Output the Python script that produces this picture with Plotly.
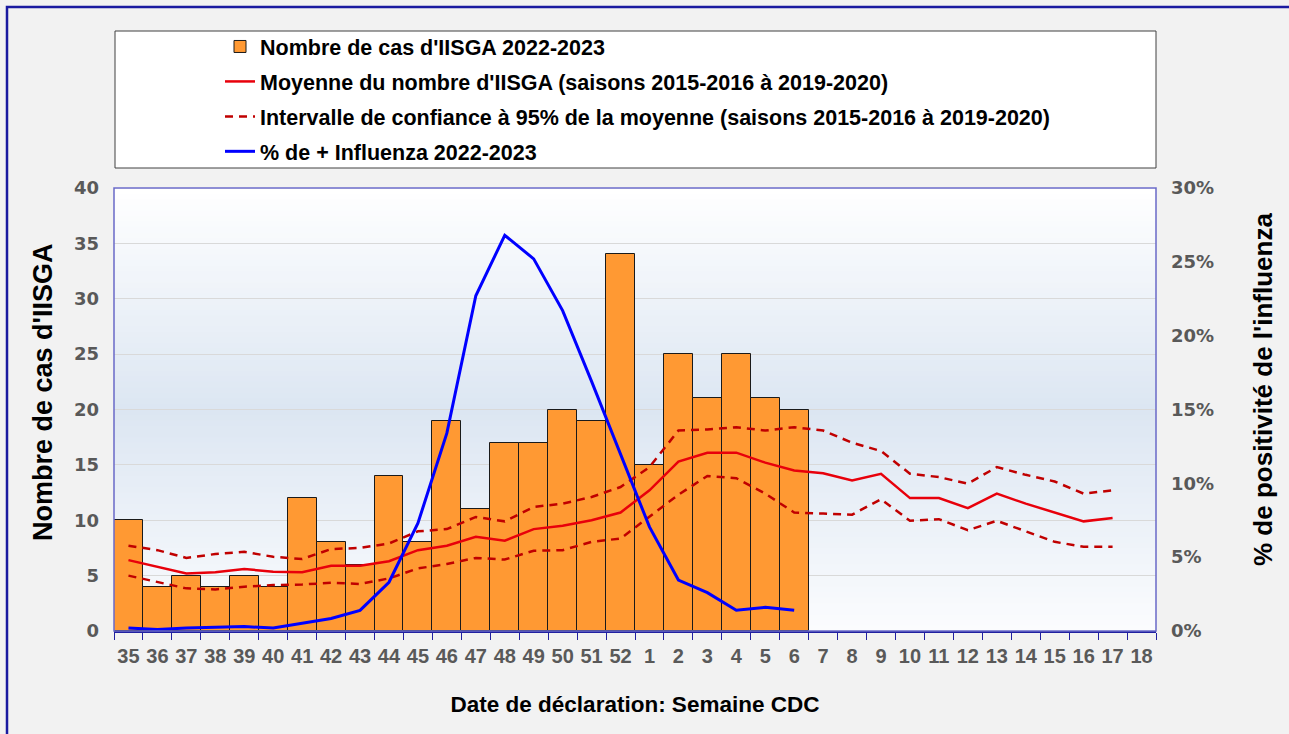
import plotly.graph_objects as go

weeks = ["35", "36", "37", "38", "39", "40", "41", "42", "43", "44", "45", "46",
         "47", "48", "49", "50", "51", "52", "1", "2", "3", "4", "5", "6",
         "7", "8", "9", "10", "11", "12", "13", "14", "15", "16", "17", "18"]

cases = [10, 4, 5, 4, 5, 4, 12, 8, 6, 14, 8, 19, 11, 17, 17, 20, 19, 34,
         15, 25, 21, 25, 21, 20,
         None, None, None, None, None, None, None, None, None, None, None, None]

mean_hist = [6.4, 5.8, 5.2, 5.3, 5.6, 5.35, 5.3, 5.9, 5.9, 6.3, 7.3, 7.7,
             8.5, 8.15, 9.2, 9.5, 10.0, 10.7, 12.7, 15.3, 16.1, 16.1, 15.2, 14.5,
             14.25, 13.6, 14.2, 12.0, 12.0, 11.1, 12.4, 11.5, 10.7, 9.9, 10.2, None]

ci_upper = [7.7, 7.3, 6.6, 6.95, 7.15, 6.7, 6.5, 7.4, 7.5, 7.9, 9.0, 9.2,
            10.3, 9.9, 11.2, 11.5, 12.1, 13.0, 14.8, 18.1, 18.2, 18.4, 18.1, 18.4,
            18.1, 17.0, 16.25, 14.2, 13.9, 13.3, 14.8, 14.1, 13.5, 12.4, 12.7, None]

ci_lower = [5.0, 4.45, 3.85, 3.75, 4.0, 4.15, 4.2, 4.35, 4.25, 4.75, 5.65, 6.05,
            6.6, 6.45, 7.25, 7.3, 8.05, 8.35, 10.3, 12.3, 14.0, 13.8, 12.4, 10.7,
            10.6, 10.5, 11.9, 9.95, 10.1, 9.1, 9.95, 9.0, 8.05, 7.6, 7.6, None]

flu_pct = [0.2, 0.1, 0.2, 0.25, 0.3, 0.2, 0.5, 0.85, 1.4, 3.3, 7.3, 13.4,
           22.7, 26.8, 25.2, 21.7, 16.9, 12.0, 7.05, 3.45, 2.6, 1.4, 1.6, 1.4,
           None, None, None, None, None, None, None, None, None, None, None, None]

left_ticks = [0, 5, 10, 15, 20, 25, 30, 35, 40]
right_ticks = [0, 5, 10, 15, 20, 25, 30]
right_ticktext = ["0%", "5%", "10%", "15%", "20%", "25%", "30%"]

W, H = 1289, 734
L, R, T, B = 114, 1156, 188, 631  # plot area in pixels

ARIAL = "Liberation Sans, Arial, sans-serif"
WIDE = "DejaVu Sans, Verdana, sans-serif"


def px_x(p):
    return (p - L) / (R - L)


def px_y(p):
    return (B - p) / (B - T)


fig = go.Figure()

fig.add_trace(go.Bar(
    x=weeks, y=cases, name="Nombre de cas d'IISGA 2022-2023",
    marker=dict(color="#FF9933", line=dict(color="#1a1a1a", width=1)),
    legendgroup="a",
))
fig.add_trace(go.Scatter(
    x=weeks, y=mean_hist, mode="lines",
    name="Moyenne du nombre d'IISGA (saisons 2015-2016 à 2019-2020)",
    line=dict(color="#E8000B", width=2.5),
    legendgroup="b",
))
fig.add_trace(go.Scatter(
    x=weeks, y=ci_upper, mode="lines",
    name="Intervalle de confiance à 95% de la moyenne (saisons 2015-2016 à 2019-2020)",
    line=dict(color="#C00000", width=2.5, dash="8px,6px"),
    legendgroup="c",
))
fig.add_trace(go.Scatter(
    x=weeks, y=ci_lower, mode="lines", showlegend=False,
    name="Intervalle de confiance à 95% (borne inférieure)",
    line=dict(color="#C00000", width=2.5, dash="8px,6px"),
    legendgroup="c",
))
fig.add_trace(go.Scatter(
    x=weeks, y=flu_pct, mode="lines", yaxis="y2",
    name="% de + Influenza 2022-2023",
    line=dict(color="#0000FF", width=3),
    legendgroup="d",
))

# gradient background of the plot area
shapes = []
n = 80
top = (255, 255, 255)
mid = (220, 230, 242)
bot = (251, 252, 254)
for i in range(n):
    t0 = i / n
    t1 = (i + 1) / n
    tc = (t0 + t1) / 2
    if tc >= 0.5:
        f = (tc - 0.5) / 0.5
        c = [round(mid[k] + (top[k] - mid[k]) * f) for k in range(3)]
    else:
        f = tc / 0.5
        c = [round(bot[k] + (mid[k] - bot[k]) * f) for k in range(3)]
    shapes.append(dict(type="rect", xref="x domain", yref="y domain",
                       x0=0, x1=1, y0=t0, y1=t1 + 0.002, layer="below",
                       line=dict(width=0), fillcolor="rgb(%d,%d,%d)" % tuple(c)))

# legend box
shapes.append(dict(type="rect", xref="paper", yref="paper",
                   x0=px_x(115), x1=px_x(1156), y0=px_y(168), y1=px_y(31),
                   fillcolor="white", line=dict(color="#404040", width=1), layer="below"))
# outer frame
shapes.append(dict(type="rect", xref="paper", yref="paper",
                   x0=px_x(7), x1=px_x(1300), y0=px_y(745), y1=px_y(7),
                   fillcolor="rgba(0,0,0,0)", line=dict(color="#1a1aa0", width=2.5),
                   layer="above"))
# plot frame
shapes.append(dict(type="rect", xref="x domain", yref="y domain",
                   x0=0, x1=1, y0=0, y1=1, fillcolor="rgba(0,0,0,0)",
                   line=dict(color="#6a6ac8", width=1.5), layer="above"))

annotations = [
    dict(text="Nombre de cas d'IISGA", xref="paper", yref="paper",
         x=px_x(43), y=px_y(392), xanchor="center", yanchor="middle",
         textangle=-90, showarrow=False,
         font=dict(family=ARIAL, size=27, color="black", weight="bold")),
    dict(text="% de positivité de l'influenza", xref="paper", yref="paper",
         x=px_x(1263), y=px_y(390), xanchor="center", yanchor="middle",
         textangle=-90, showarrow=False,
         font=dict(family=ARIAL, size=26, color="black", weight="bold")),
]

fig.update_layout(
    width=W, height=H,
    margin=dict(l=L, r=W - R, t=T, b=H - B, autoexpand=False),
    paper_bgcolor="#F2F2F2",
    plot_bgcolor="white",
    bargap=0,
    showlegend=True,
    legend=dict(x=px_x(220), y=px_y(26), xanchor="left", yanchor="top",
                bgcolor="rgba(0,0,0,0)", borderwidth=0,
                font=dict(family=ARIAL, size=21.5, color="black", weight="bold"),
                traceorder="grouped", tracegroupgap=4),
    shapes=shapes,
    annotations=annotations,
    xaxis=dict(
        type="category", categoryorder="array", categoryarray=weeks,
        range=[-0.5, 35.5],
        tickson="boundaries", ticks="outside", ticklen=7, tickcolor="#2020a0",
        tickangle=0, ticklabelstandoff=6,
        showline=True, linecolor="#2020a0", linewidth=2,
        showgrid=False,
        tickfont=dict(family=ARIAL, size=20, color="#595959", weight="bold"),
        title=dict(text="Date de déclaration: Semaine CDC", standoff=30,
                   font=dict(family=ARIAL, size=22.5, color="black", weight="bold")),
    ),
    yaxis=dict(
        range=[0, 40], tickvals=left_ticks,
        showgrid=True, gridcolor="#D9D9D9", gridwidth=1,
        zeroline=False, ticks="", ticklabelstandoff=14,
        tickfont=dict(family=WIDE, size=18, color="#595959", weight="bold"),
    ),
    yaxis2=dict(
        overlaying="y", side="right", range=[0, 30],
        tickmode="array", tickvals=right_ticks, ticktext=right_ticktext,
        showgrid=False, zeroline=False, ticks="",
        ticklabelstandoff=14,
        tickfont=dict(family=WIDE, size=18, color="#595959", weight="bold"),
    ),
)

fig.write_html("out.html", config={"displayModeBar": False},
               post_script="document.body.style.margin='0';document.body.style.overflow='hidden';")
